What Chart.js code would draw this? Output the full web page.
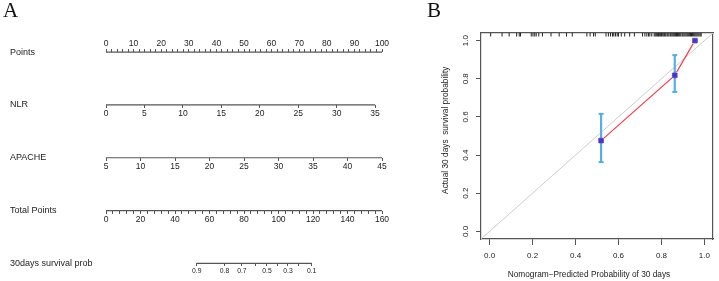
<!DOCTYPE html>
<html>
<head>
<meta charset="utf-8">
<script src="https://cdn.jsdelivr.net/npm/chart.js@4.4.1/dist/chart.umd.min.js"></script>
<style>
  html, body { margin: 0; padding: 0; background: #fff; }
  #wrap { position: relative; width: 719px; height: 281px; overflow: hidden; }
  canvas { position: absolute; top: 0; }
  .tag { position: absolute; top: 0; font: 21px/1 "Liberation Serif", "Times New Roman", serif; color: #111; }
</style>
</head>
<body>
<div id="wrap">
  <canvas id="nomo" width="420" height="281" style="left:0"></canvas>
  <canvas id="calib" width="299" height="281" style="left:420px"></canvas>
  <div class="tag" style="left:3px">A</div>
  <div class="tag" style="left:427px">B</div>
</div>
<script>
// --- A : nomogramme ---
const rowLabels = ['Points', 'NLR', 'APACHE', 'Total Points', '30days survival prob'];
const pointsRange = [0, 100];
const nlrRange = [0, 35];
const nlrPointsAtMax = 97.5;          // NLR = 35 vaut ~97.5 points
const apacheRange = [5, 45];
const totalRange = [0, 160];
const survLabels = ['0.9', '0.8', '0.7', '', '0.5', '', '0.3', '', '0.1'];
const survTotalPoints = [52.6, 68.7, 78.8, 86.5, 93.3, 99.4, 105.5, 111.7, 119.2];

// --- B : calibration ---
const calPredicted = [0.519, 0.862, 0.956];
const calObserved = [0.476, 0.818, 1.0];
const calLower = [0.363, 0.731];
const calUpper = [0.616, 0.924];
const calTicks = [0, 0.2, 0.4, 0.6, 0.8, 1.0];
const calLimits = [-0.04, 1.04];
const rugPredicted = [
  0.005, 0.058, 0.091, 0.126, 0.138, 0.144, 0.194, 0.202, 0.21, 0.217, 0.229, 0.246,
  0.286, 0.324, 0.358, 0.385, 0.453, 0.468, 0.484, 0.492, 0.542, 0.553, 0.563, 0.572,
  0.578, 0.586, 0.594, 0.6, 0.613, 0.629, 0.652, 0.674, 0.712, 0.723, 0.732, 0.74,
  0.746, 0.755, 0.766, 0.771, 0.776, 0.781, 0.786, 0.79, 0.795, 0.8, 0.806, 0.811,
  0.815, 0.82, 0.826, 0.83, 0.835, 0.841, 0.845, 0.85, 0.855, 0.86, 0.866, 0.87,
  0.875, 0.88, 0.885, 0.89, 0.896, 0.9, 0.905, 0.91, 0.915, 0.92, 0.925, 0.93,
  0.935, 0.94, 0.945, 0.95, 0.955, 0.96, 0.965, 0.97, 0.975, 0.98, 0.985
];

const FONT = '"Liberation Sans", Arial, sans-serif';
const TEXT = '#222';
const AXIS = '#555';
Chart.defaults.font.family = FONT;
Chart.defaults.color = TEXT;

// largeur de la plus longue étiquette de ligne, pour les caler à gauche
const meas = document.createElement('canvas').getContext('2d');
meas.font = '9px ' + FONT;
const widestRow = Math.max(...rowLabels.map(t => meas.measureText(t).width));

function rowAxis(row, min, max, opts) {
  return {
    type: 'linear',
    axis: 'x',
    position: { y: row },
    min: min,
    max: max,
    border: { display: false },
    grid: { drawOnChartArea: false, tickLength: opts.tickLength, color: AXIS, lineWidth: 1 },
    afterBuildTicks: opts.afterBuildTicks,
    ticks: {
      stepSize: opts.stepSize,
      includeBounds: false,
      autoSkip: false,
      minRotation: 0,
      maxRotation: 0,
      padding: opts.padding,
      color: TEXT,
      font: { size: opts.fontSize },
      callback: opts.callback
    }
  };
}

function rowLine(axisId, from, to, row) {
  return {
    xAxisID: axisId,
    yAxisID: 'y',
    data: [{ x: from, y: row }, { x: to, y: row }],
    showLine: true,
    borderColor: AXIS,
    borderWidth: 1.2,
    pointRadius: 0
  };
}

new Chart(document.getElementById('nomo'), {
  type: 'scatter',
  data: {
    datasets: [
      rowLine('xPoints', pointsRange[0], pointsRange[1], 0),
      rowLine('xNLR', nlrRange[0], nlrRange[1], 1),
      rowLine('xApache', apacheRange[0], apacheRange[1], 2),
      rowLine('xTotal', totalRange[0], totalRange[1], 3),
      rowLine('xSurv', survTotalPoints[0], survTotalPoints[survTotalPoints.length - 1], 4)
    ]
  },
  options: {
    responsive: false,
    animation: false,
    events: [],
    devicePixelRatio: 1,
    layout: { padding: { left: 10, right: 38, top: 31, bottom: 6 } },
    plugins: { legend: { display: false }, tooltip: { enabled: false } },
    scales: {
      y: {
        type: 'linear',
        position: 'left',
        reverse: true,
        min: -0.4,
        max: 4.22,
        border: { display: false },
        grid: { display: false, drawTicks: false },
        afterBuildTicks: s => { s.ticks = rowLabels.map((_, i) => ({ value: i })); },
        afterFit: s => { s.width = 96; s.paddingTop = 0; s.paddingBottom = 0; },
        ticks: {
          crossAlign: 'far',
          padding: 96 - widestRow,
          color: TEXT,
          font: { size: 9 },
          callback: (v, i) => rowLabels[i]
        }
      },
      xPoints: rowAxis(0, pointsRange[0], pointsRange[1], {
        stepSize: 2, tickLength: -3, padding: -10.8, fontSize: 8.5,
        callback: v => (v % 10 === 0 ? String(v) : '')
      }),
      xNLR: rowAxis(1, nlrRange[0], nlrRange[1] * pointsRange[1] / nlrPointsAtMax, {
        stepSize: 5, tickLength: 3, padding: 0.7, fontSize: 8.5,
        callback: v => String(v)
      }),
      xApache: rowAxis(2, apacheRange[0], apacheRange[1], {
        stepSize: 5, tickLength: 3, padding: 0.7, fontSize: 8.5,
        callback: v => String(v)
      }),
      xTotal: rowAxis(3, totalRange[0], totalRange[1], {
        stepSize: 4, tickLength: 3, padding: 0.7, fontSize: 8.5,
        callback: v => (v % 20 === 0 ? String(v) : '')
      }),
      xSurv: rowAxis(4, totalRange[0], totalRange[1], {
        tickLength: 3, padding: 0.3, fontSize: 6.8,
        afterBuildTicks: s => { s.ticks = survTotalPoints.map(v => ({ value: v })); },
        callback: (v, i) => survLabels[i]
      })
    }
  }
});

// --- B ---
const calDatasets = [
  {
    data: calLimits.map(v => ({ x: v, y: v })),
    showLine: true, borderColor: '#cdcdcd', borderWidth: 1, pointRadius: 0, order: 6
  },
  {
    data: calPredicted.map((x, i) => ({ x: x, y: calObserved[i] })),
    showLine: true, borderColor: '#f0404f', borderWidth: 1.2,
    pointRadius: 3.5, pointBackgroundColor: '#fff', pointBorderWidth: 0, order: 5
  }
];
calLower.forEach((lo, i) => {
  calDatasets.push({
    data: [{ x: calPredicted[i], y: lo }, { x: calPredicted[i], y: calUpper[i] }],
    showLine: true, borderColor: '#56aee2', borderWidth: 2.2,
    pointStyle: 'line', pointRadius: 2.5, pointBorderWidth: 2, pointBorderColor: '#56aee2', order: 4
  });
});
calDatasets.push({
  data: calPredicted.map((x, i) => ({ x: x, y: calObserved[i] })),
  pointStyle: 'rect', pointRadius: 3.3, pointBackgroundColor: '#3a3ad6',
  pointBorderColor: '#6a3ea8', pointBorderWidth: 0.8, order: 2
});
calDatasets.push({
  data: rugPredicted.map(x => ({ x: x, y: calLimits[1] })),
  pointStyle: 'line', pointRotation: 90, pointRadius: 3.5,
  pointBorderColor: '#222', pointBorderWidth: 1, clip: 0, order: 1
});

const frame = { display: true, color: AXIS, width: 1.2 };

new Chart(document.getElementById('calib'), {
  type: 'scatter',
  data: { datasets: calDatasets },
  options: {
    responsive: false,
    animation: false,
    events: [],
    devicePixelRatio: 1,
    layout: { padding: { left: 0, right: 2, top: 33, bottom: 0 } },
    plugins: { legend: { display: false }, tooltip: { enabled: false } },
    scales: {
      x: {
        type: 'linear', position: 'bottom', min: calLimits[0], max: calLimits[1],
        border: frame,
        grid: { drawOnChartArea: false, tickLength: 6, color: AXIS },
        afterBuildTicks: s => { s.ticks = calTicks.map(v => ({ value: v })); },
        afterFit: s => { s.height = 42; },
        ticks: { padding: 6.2, color: TEXT, font: { size: 8 }, maxRotation: 0, autoSkip: false,
                 callback: v => v.toFixed(1) },
        // titre décalé vers la gauche comme dans la figure d'origine
        title: { display: true, text: 'Nomogram\u2212Predicted Probability of 30 days       ',
                 color: TEXT, font: { size: 8.3 }, padding: { top: 0, bottom: 1 } }
      },
      y: {
        type: 'linear', position: 'left', min: calLimits[0], max: calLimits[1],
        border: frame,
        grid: { drawOnChartArea: false, tickLength: 5, color: AXIS },
        afterBuildTicks: s => { s.ticks = calTicks.map(v => ({ value: v })); },
        afterFit: s => { s.width = 61; },
        ticks: { padding: 4.5, color: TEXT, font: { size: 8 }, minRotation: 90, maxRotation: 90,
                 crossAlign: 'center', autoSkip: false, callback: v => v.toFixed(1) },
        title: { display: true, text: '     Actual 30 days  survival probability',
                 color: TEXT, font: { size: 8.3 }, padding: { top: 20.8, bottom: 0 } }
      },
      xTop: {
        type: 'linear', axis: 'x', position: 'top', min: calLimits[0], max: calLimits[1],
        border: frame, grid: { display: false, drawTicks: false }, ticks: { display: false },
        afterFit: s => { s.height = 0; }
      },
      yRight: {
        type: 'linear', axis: 'y', position: 'right', min: calLimits[0], max: calLimits[1],
        border: frame, grid: { display: false, drawTicks: false }, ticks: { display: false },
        afterFit: s => { s.width = 0; }
      }
    }
  }
});
</script>
</body>
</html>
